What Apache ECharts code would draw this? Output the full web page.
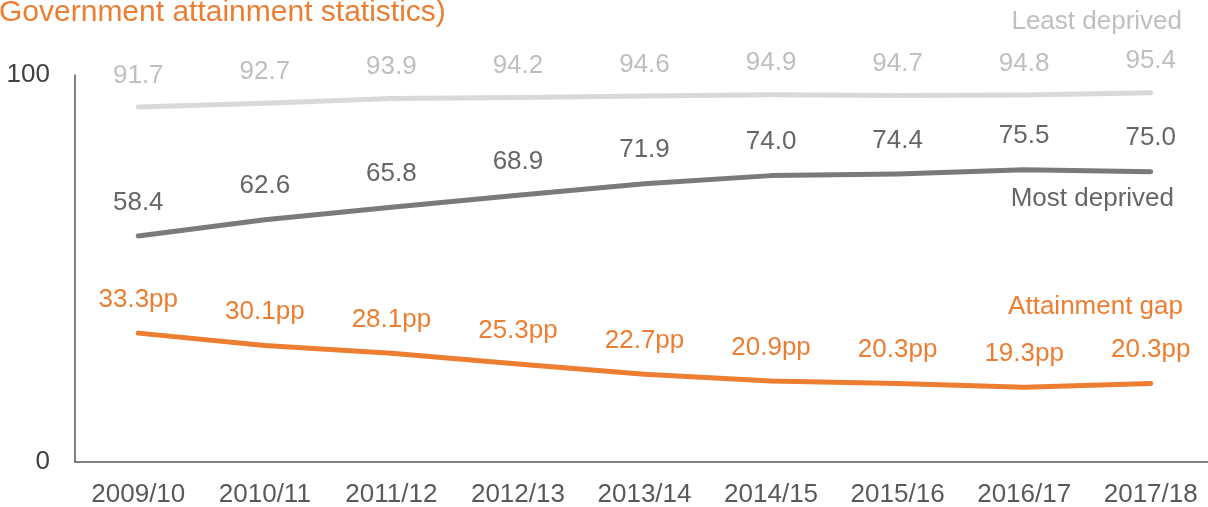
<!DOCTYPE html>
<html><head><meta charset="utf-8">
<script src="https://cdn.jsdelivr.net/npm/echarts@6/dist/echarts.min.js"></script>
<style>html,body{margin:0;padding:0;background:#fff}#c{width:1208px;height:507px}</style>
</head><body><div id="c"></div>
<script>
var categories = ['2009/10','2010/11','2011/12','2012/13','2013/14','2014/15','2015/16','2016/17','2017/18'];
var leastDeprived = [91.7, 92.7, 93.9, 94.2, 94.6, 94.9, 94.7, 94.8, 95.4];
var mostDeprived = [58.4, 62.6, 65.8, 68.9, 71.9, 74.0, 74.4, 75.5, 75.0];
var attainmentGap = [33.3, 30.1, 28.1, 25.3, 22.7, 20.9, 20.3, 19.3, 20.3];
var yTicks = [0, 100];

var FONT = '"Liberation Sans", Arial, sans-serif';
var chart = echarts.init(document.getElementById('c'));
function lbl(color, suffix, dist) {
  return { show: true, position: 'top', distance: dist, color: color, fontSize: 26, fontFamily: FONT,
    formatter: function (p) { return p.value.toFixed(1) + suffix; } };
}
function line(name, data, lineColor, labelColor, suffix, dist) {
  return { name: name, type: 'line', data: data, symbol: 'circle', symbolSize: 1, showSymbol: true,
    itemStyle: { color: lineColor }, lineStyle: { color: lineColor, width: 5, cap: 'round', join: 'round' },
    label: lbl(labelColor, suffix, dist) };
}
chart.setOption({
  animation: false,
  grid: { left: 75, top: 75, bottom: 45, width: 1139, containLabel: false, outerBoundsMode: 'none' },
  xAxis: { type: 'category', data: categories, boundaryGap: true,
    axisLine: { lineStyle: { color: '#595959', width: 1.5 } }, axisTick: { show: false },
    axisLabel: { color: '#595959', fontSize: 26, fontFamily: FONT, margin: 20, interval: 0 } },
  yAxis: { type: 'value', min: yTicks[0], max: yTicks[1], interval: 100,
    axisLine: { show: true, lineStyle: { color: '#595959', width: 1.5 } }, axisTick: { show: false },
    splitLine: { show: false },
    axisLabel: { color: '#404040', fontSize: 26, fontFamily: FONT, margin: 25 } },
  series: [
    line('Least deprived', leastDeprived, '#D9D9D9', '#BFBFBF', '', 18),
    line('Most deprived', mostDeprived, '#7A7A7A', '#666666', '', 20),
    line('Attainment gap', attainmentGap, '#ED7D31', '#ED7D31', 'pp', 20)
  ],
  graphic: [
    { type: 'text', style: { x: -1, y: 13, text: 'Government attainment statistics)', fill: '#ED7D31',
      font: '30px ' + FONT, align: 'left', verticalAlign: 'middle' } },
    { type: 'text', style: { x: 1182, y: 22, text: 'Least deprived', fill: '#BFBFBF',
      font: '26px ' + FONT, align: 'right', verticalAlign: 'middle' } },
    { type: 'text', style: { x: 1174, y: 199, text: 'Most deprived', fill: '#666666',
      font: '26px ' + FONT, align: 'right', verticalAlign: 'middle' } },
    { type: 'text', style: { x: 1183, y: 307, text: 'Attainment gap', fill: '#ED7D31',
      font: '26px ' + FONT, align: 'right', verticalAlign: 'middle' } }
  ]
});
</script></body></html>
